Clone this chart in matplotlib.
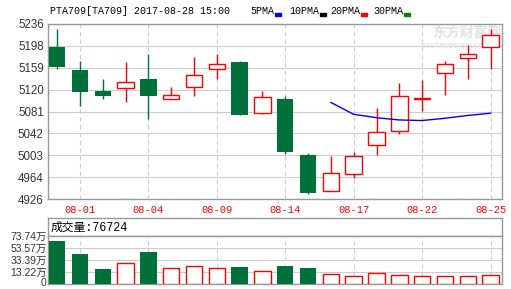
import matplotlib.pyplot as plt
import matplotlib.transforms as mtrans
import numpy as np
import pandas as pd

# daily k-line data
dates = ['07-31', '08-01', '08-02', '08-03', '08-04', '08-07', '08-08', '08-09', '08-10', '08-11',
         '08-14', '08-15', '08-16', '08-17', '08-18', '08-21', '08-22', '08-23', '08-24', '08-25']
opens = [5195, 5155, 5117, 5122, 5139, 5103, 5124, 5156, 5169, 5079,
         5103, 5004, 4941, 4971, 5021, 5046, 5103, 5150, 5175, 5196]
closes = [5160, 5116, 5109, 5133, 5108, 5110, 5145, 5165, 5075, 5107,
          5010, 4937, 4972, 5002, 5045, 5108, 5105, 5165, 5182, 5216]
highs = [5227, 5170, 5139, 5169, 5182, 5124, 5177, 5182, 5170, 5117,
         5108, 5007, 5002, 5010, 5088, 5131, 5137, 5170, 5199, 5227]
lows = [5156, 5091, 5104, 5097, 5068, 5103, 5109, 5139, 5074, 5077,
        5006, 4934, 4941, 4964, 5004, 5041, 5082, 5110, 5139, 5156]
# volume in 万 (scale shown on the chart)
volumes = [65.8, 43.8, 18.4, 28.1, 47.2, 19.6, 23.0, 19.6, 21.8, 14.5,
           23.5, 20.1, 9.5, 6.1, 11.2, 7.8, 6.1, 6.1, 6.1, 8.3]
ma_idx = [12, 13, 14, 15, 16, 17, 18, 19]
ma_vals = [5097, 5076, 5070, 5066, 5065, 5069, 5074, 5078]

price_ticks = ['4926', '4964', '5003', '5042', '5081', '5120', '5159', '5198', '5236']
vol_ticks = ['0', '13.22万', '33.39万', '53.57万', '73.74万']
date_ticks = ['08-01', '08-04', '08-09', '08-14', '08-17', '08-22', '08-25']

df = pd.DataFrame({'date': dates, 'open': opens, 'close': closes, 'high': highs,
                   'low': lows, 'vol': volumes})
df['up'] = df.close >= df.open

RED = '#ff0000'
GREEN = '#00703a'
BORDER = '#999999'
GRID = '#cccccc'
LABEL = '#333333'
num_font = ['Liberation Sans', 'Noto Sans CJK SC']
mono_font = ['Liberation Mono', 'Noto Sans CJK SC']

fig = plt.figure(figsize=(5.11, 2.89), dpi=100)
ax = fig.add_axes([48/511, 1-199/289, 454/511, 175/289])
hdr = fig.add_axes([48/511, 1-236/289, 454/511, 18/289])
axv = fig.add_axes([48/511, 1-284/289, 454/511, 48/289])

x = np.arange(len(df))
w = 0.72
xlim = (-0.4, 19.5)

# price panel
pmin, pmax = 4926, 5236
ax.set_xlim(xlim)
ax.set_ylim(pmin, pmax)
ax.set_yticks(np.linspace(pmin, pmax, len(price_ticks)))
ax.set_yticklabels(price_ticks, fontsize=8.3, color=LABEL, family=num_font)
tick_pos = [dates.index(d) for d in date_ticks]
ax.set_xticks(tick_pos)
ax.set_xticklabels(date_ticks, fontsize=7.5, color=RED, family=mono_font)
ax.tick_params(length=0, pad=3)
ax.tick_params(axis='x', pad=4)
ax.grid(axis='y', color=GRID, lw=0.8)
for p in tick_pos:
    ax.axvline(p, color=GRID, lw=0.8, ls=(0, (4, 3)), zorder=0)
ax.set_axisbelow(True)

for i, r in df.iterrows():
    if r.up:
        lo, hi = r.open, r.close
        ax.vlines(i, r.low, lo, color=RED, lw=1.0, zorder=2)
        ax.vlines(i, hi, r.high, color=RED, lw=1.0, zorder=2)
        if hi - lo < 1.5:
            ax.hlines(lo, i - w/2, i + w/2, color=RED, lw=2.0, zorder=3)
        else:
            ax.bar(i, hi - lo, w, bottom=lo, facecolor='white', edgecolor=RED, lw=1.0, zorder=3)
    else:
        ax.vlines(i, r.low, r.high, color=GREEN, lw=1.0, zorder=2)
        ax.bar(i, r.open - r.close, w, bottom=r.close, color=GREEN, lw=0, zorder=3)

ax.plot(ma_idx, ma_vals, color='#0000ff', lw=1.0, zorder=4)

# title + legend
fig.text(50/511, 1-14/289, 'PTA709[TA709] 2017-08-28 15:00', fontsize=7.2,
         family=mono_font, color='black', va='baseline')
legend = [('5PMA', '#0000ff', 250), ('10PMA', 'black', 289), ('20PMA', RED, 330), ('30PMA', '#008000', 373)]
for name, c, px in legend:
    fig.text(px/511, 1-14/289, name, fontsize=7.2, family=mono_font, color='black', va='baseline')
    sq = 6*len(name) + px + 1
    fig.patches.append(plt.Rectangle((sq/511, 1-16/289), 6/511, 3/289, transform=fig.transFigure,
                                     color=c, figure=fig))

# watermark
ax.text(0.923, 0.95, '东方财富网', transform=ax.transAxes, ha='center', va='center',
        fontsize=10, family=['Noto Sans CJK SC'], color='#e2e2e2', weight='bold', zorder=1)
ax.text(0.90, 0.877, 'eastmoney.com', transform=ax.transAxes, ha='center', va='center',
        fontsize=6, family=['DejaVu Sans'], color='#e6e6e6', weight='bold', zorder=1)

# volume header
hdr.set_xticks([])
hdr.set_yticks([])
hdr.text(0.005, 0.45, '成交量:76724', fontsize=8.5, family=mono_font, va='center', ha='left')

# volume panel
vmin, vmax = -6.94, 73.74
axv.set_xlim(xlim)
axv.set_ylim(vmin, vmax)
axv.set_yticks(np.linspace(vmin, vmax, len(vol_ticks)))
axv.set_yticklabels(vol_ticks, fontsize=7.5, color=LABEL, family=num_font)
axv.set_xticks([])
axv.tick_params(length=0, pad=1)
# lift the "0" label a little so it stays inside the figure
zero_lbl = axv.get_yticklabels()[0]
zero_lbl.set_transform(zero_lbl.get_transform() +
                       mtrans.ScaledTranslation(0, 1.5/100, fig.dpi_scale_trans))
axv.grid(axis='y', color=GRID, lw=0.8)
for p in tick_pos:
    axv.axvline(p, color=GRID, lw=0.8, ls=(0, (4, 3)), zorder=0)
axv.set_axisbelow(True)
for i, r in df.iterrows():
    if r.up:
        axv.bar(i, r.vol - vmin, w, bottom=vmin, facecolor='white', edgecolor=RED, lw=1.0, zorder=3)
    else:
        axv.bar(i, r.vol - vmin, w, bottom=vmin, color=GREEN, lw=0, zorder=3)

for a in (ax, hdr, axv):
    for s in a.spines.values():
        s.set_color(BORDER)
        s.set_linewidth(1.0)

fig.savefig('out.png', dpi=100)
